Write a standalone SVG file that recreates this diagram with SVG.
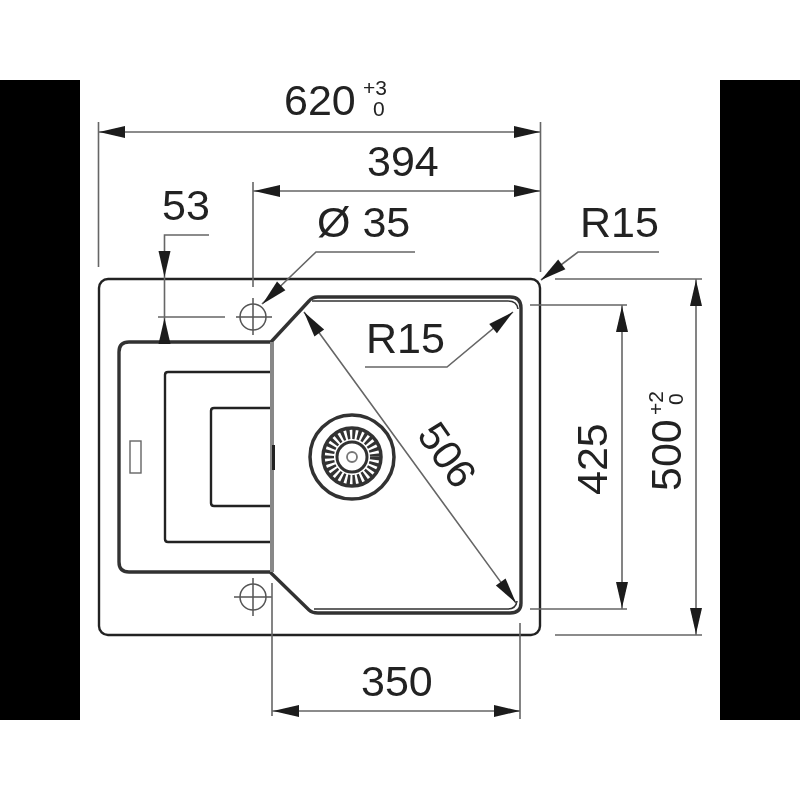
<svg xmlns="http://www.w3.org/2000/svg" width="800" height="800" viewBox="0 0 800 800">
<style>
text{font-family:"Liberation Sans",Arial,sans-serif;fill:#222;font-size:43px}
.sm{font-size:21px}
.o{fill:none;stroke:#222;stroke-width:2.4;stroke-linejoin:round}
.t{fill:none;stroke:#333;stroke-width:3.4;stroke-linejoin:round}
.d{fill:none;stroke:#666;stroke-width:1.6}
.ar{fill:#1c1c1c;stroke:none}
</style>
<defs>
<path id="a" class="ar" d="M0 0L-26-6L-26 6Z"/>
<filter id="soft" x="0" y="0" width="100%" height="100%" filterUnits="userSpaceOnUse"><feGaussianBlur stdDeviation="0.45"/></filter>
</defs>
<rect x="0" y="0" width="800" height="800" fill="#fff"/>
<rect x="0" y="80" width="80" height="640" fill="#000"/>
<rect x="720" y="80" width="80" height="640" fill="#000"/>
<g filter="url(#soft)">
<g id="sink">
<rect class="o" x="99" y="279" width="441" height="356" rx="9"/>
<path class="t" d="M272 342H129Q119 342 119 352V562Q119 572 129 572H270L309 610Q312 613 318 613H510Q521 613 521 603V308Q521 297 510 297H318Q312 297 309 301L271 342"/>
<path d="M312 301H508Q517 301 518 309M314 609H508Q516 609 517 601" fill="none" stroke="#333" stroke-width="1.600"/>
<path class="o" d="M272 372H168Q165 372 165 375V539Q165 542 168 542H272M272 408H214Q211 408 211 411V503Q211 506 214 506H272"/>
<rect x="130" y="441" width="11" height="32" fill="none" stroke="#666" stroke-width="1.400"/>
<line x1="272" y1="342" x2="272" y2="572" stroke="#888" stroke-width="4"/>
<line x1="273.500" y1="445" x2="273.500" y2="470" stroke="#222" stroke-width="3"/>
</g>
<g id="drain" fill="none" stroke="#333">
<circle cx="352" cy="457" r="42" stroke-width="3.500"/>
<circle cx="352" cy="457" r="29" stroke-width="3.500"/>
<circle cx="352" cy="457" r="23" stroke-width="10" stroke-dasharray="3 2.400"/>
<circle cx="352" cy="457" r="15" stroke-width="3"/>
<circle cx="352" cy="457" r="5" stroke="#777" stroke-width="1.800"/>
</g>
<g id="holes" fill="none" stroke="#555" stroke-width="1.500">
<g id="hole-top"><circle cx="253" cy="317" r="13"/><path d="M236 317H272M253 298V335"/></g>
<g id="hole-bottom"><circle cx="253" cy="597" r="13"/><path d="M234 597H272M253 578V616"/></g>
</g>
<g id="connectors">
<path class="d" d="M98.500 122V267M540.500 122V272M99 132H540M253 182V287M253 191H540"/>
<path class="d" d="M209 235H164.500V343M158 317H225"/>
<path class="d" d="M415 252H316L262 304"/>
<path class="d" d="M659 252H578L541 280"/>
<path class="d" d="M555 279H702M696 279V635M555 635H702"/>
<path class="d" d="M530 305H627M622 305V609M530 609H627"/>
<path class="d" d="M272 583V716M520 623V719M272 711H520"/>
<path class="d" d="M304 312L516 603M365 367H447L513 312"/>
<use href="#a" transform="translate(99 132) rotate(180)"/>
<use href="#a" transform="translate(540 132)"/>
<use href="#a" transform="translate(254 191) rotate(180)"/>
<use href="#a" transform="translate(540 191)"/>
<use href="#a" transform="translate(164.500 277) rotate(90)"/>
<use href="#a" transform="translate(164.500 318) rotate(-90)"/>
<use href="#a" transform="translate(262.500 304) rotate(136)"/>
<use href="#a" transform="translate(541 280) rotate(143)"/>
<use href="#a" transform="translate(304 312) rotate(234)"/>
<use href="#a" transform="translate(516 603) rotate(54)"/>
<use href="#a" transform="translate(513 312) rotate(-40)"/>
<use href="#a" transform="translate(622 306) rotate(-90)"/>
<use href="#a" transform="translate(622 608) rotate(90)"/>
<use href="#a" transform="translate(696 280) rotate(-90)"/>
<use href="#a" transform="translate(696 634) rotate(90)"/>
<use href="#a" transform="translate(273 711) rotate(180)"/>
<use href="#a" transform="translate(520 711)"/>
</g>
<g id="labels">
<text x="284" y="115">620</text>
<text class="sm" x="363" y="95">+3</text>
<text class="sm" x="373" y="116">0</text>
<text x="367" y="176">394</text>
<text x="162" y="220">53</text>
<text x="317" y="237">Ø 35</text>
<text x="580" y="237">R15</text>
<text x="366" y="353">R15</text>
<text x="361" y="696">350</text>
<text transform="translate(606.500 495) rotate(-90)">425</text>
<text transform="translate(681 491) rotate(-90)">500</text>
<text class="sm" transform="translate(663 415) rotate(-90)">+2</text>
<text class="sm" transform="translate(683 405) rotate(-90)">0</text>
<text style="font-size:41px" transform="translate(416 435) rotate(55)">506</text>
</g>
</g>
</svg>
